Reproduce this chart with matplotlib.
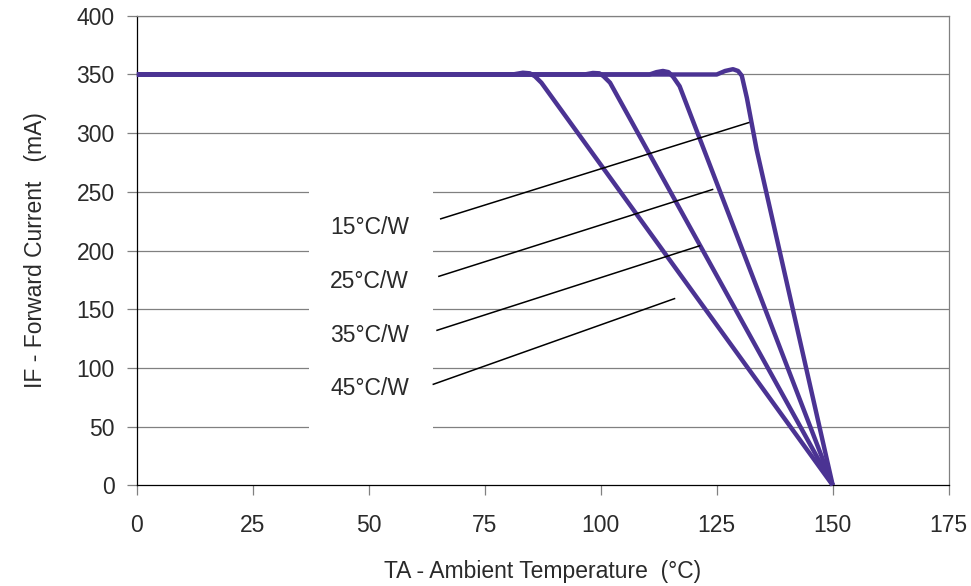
import matplotlib.pyplot as plt
from matplotlib.patches import Rectangle

plt.rcParams['font.family'] = ['Liberation Sans', 'DejaVu Sans']

# derating curves, one per thermal resistance (x = ambient temp, y = forward current)
curve_15_x = [0, 125, 126.8, 128.5, 129.6, 130.4, 131.5, 133.6, 150]
curve_15_y = [350, 350, 353, 354.5, 353, 349, 330, 286, 0]
curve_25_x = [0, 110.5, 112, 113.4, 114.6, 115.6, 117, 150]
curve_25_y = [350, 350, 352, 353, 352, 348, 340, 0]
curve_35_x = [0, 96.5, 98.3, 99.7, 100.6, 102, 150]
curve_35_y = [350, 350, 351.3, 351, 348.5, 343, 0]
curve_45_x = [0, 81, 83.2, 84.7, 85.8, 87.2, 150]
curve_45_y = [350, 350, 351.5, 351, 348.5, 343, 0]

labels = ['15°C/W', '25°C/W', '35°C/W', '45°C/W']
label_y = [220, 174, 128, 82]
pointer_start = [(65.5, 227), (65.1, 178), (64.7, 132), (63.9, 86)]
pointer_end = [(131.9, 309), (124.1, 252), (121.3, 204), (115.9, 159)]

xticks = [0, 25, 50, 75, 100, 125, 150, 175]
yticks = [0, 50, 100, 150, 200, 250, 300, 350, 400]

purple = '#4b3393'

fig = plt.figure(figsize=(9.71, 5.86), dpi=100)
ax = fig.add_axes([0.141, 0.172, 0.836, 0.801])

for y in yticks[1:]:
    ax.axhline(y, color='#808080', lw=0.9, zorder=1)

# white patch behind the labels hides the grid there
ax.add_patch(Rectangle((37, 35), 26.8, 232, facecolor='white', edgecolor='none', zorder=2))

for xs, ys in [(curve_15_x, curve_15_y), (curve_25_x, curve_25_y),
               (curve_35_x, curve_35_y), (curve_45_x, curve_45_y)]:
    ax.plot(xs, ys, color=purple, lw=3.2, solid_joinstyle='round',
            solid_capstyle='butt', zorder=4, clip_on=False)

for lab, ly, (x0, y0), (x1, y1) in zip(labels, label_y, pointer_start, pointer_end):
    ax.text(50.2, ly, lab, fontsize=16.5, color='#2a2a2a', ha='center', va='center', zorder=5)
    ax.plot([x0, x1], [y0, y1], color='black', lw=1.1, zorder=5)

ax.set_xlim(0, 175)
ax.set_ylim(0, 400)
ax.set_xticks(xticks)
ax.set_yticks(yticks)
ax.tick_params(axis='both', labelsize=16.5, labelcolor='#2a2a2a', length=7,
               width=0.9, color='#808080')
ax.tick_params(axis='y', pad=9)
ax.tick_params(axis='x', pad=14)

ax.spines['left'].set_color('black')
ax.spines['bottom'].set_color('black')
ax.spines['right'].set_color('#808080')
ax.spines['top'].set_color('#808080')
for s in ax.spines.values():
    s.set_linewidth(0.9)

ax.set_xlabel('TA - Ambient Temperature  (°C)', fontsize=16.5, color='#2a2a2a', labelpad=16)
ax.set_ylabel('IF - Forward Current   (mA)', fontsize=16.5, color='#2a2a2a', labelpad=21)

fig.savefig('out.png', dpi=100)
